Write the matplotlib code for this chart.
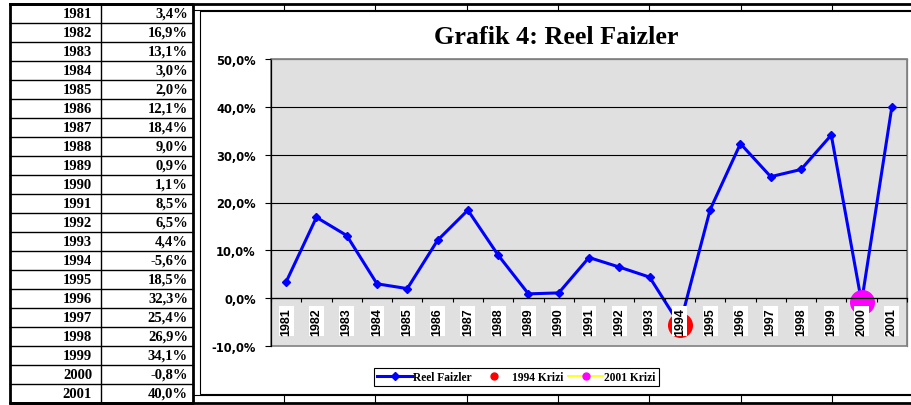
import matplotlib.pyplot as plt
import numpy as np
from matplotlib.lines import Line2D
from matplotlib.patches import Rectangle

YEARS = [1981, 1982, 1983, 1984, 1985, 1986, 1987, 1988, 1989, 1990, 1991,
         1992, 1993, 1994, 1995, 1996, 1997, 1998, 1999, 2000, 2001]
REAL_RATES = [3.4, 16.9, 13.1, 3.0, 2.0, 12.1, 18.4, 9.0, 0.9, 1.1, 8.5,
              6.5, 4.4, -5.6, 18.5, 32.3, 25.4, 26.9, 34.1, -0.8, 40.0]

# crisis markers (single points)
CRISIS_1994_YEAR = 1994
CRISIS_1994_VALUE = -5.6
CRISIS_2001_YEAR = 2000
CRISIS_2001_VALUE = -0.8

Y_TICKS = [-10, 0, 10, 20, 30, 40, 50]

W, H = 911, 406


def pct(v):
    return f"{v:.1f}%".replace(".", ",")


def draw_sheet(bg):
    # spreadsheet table on the left
    left, mid, right = 10, 101, 193
    top, row_h = 5, 19
    bottom = top + row_h * len(YEARS)
    for i in range(1, len(YEARS)):
        y = top + row_h * i
        bg.plot([left, right], [y, y], color="black", lw=1.0)
    bg.plot([mid, mid], [top, bottom], color="black", lw=1.0)
    bg.plot([left, right, right, left, left], [top, top, bottom, bottom, top],
            color="black", lw=2.0)

    for i, (year, val) in enumerate(zip(YEARS, REAL_RATES)):
        yc = top + row_h * (i + 0.5)
        bg.text(92, yc, str(year), ha="right", va="center",
                family="Liberation Serif", weight="bold", fontsize=10.5)
        bg.text(188, yc, pct(val), ha="right", va="center",
                family="Liberation Serif", weight="bold", fontsize=10.5)

    # grid lines of the sheet around the chart
    bg.plot([left, W], [top, top], color="black", lw=2.0)
    bg.plot([right, W], [11, 11], color="black", lw=0.8)
    bg.plot([right, W], [396, 396], color="black", lw=0.8)
    bg.plot([left, W], [bottom, bottom], color="black", lw=2.0)
    for x in [284, 375, 467, 558, 649, 741, 832]:
        bg.plot([x, x], [top, 11], color="black", lw=0.8)
        bg.plot([x, x], [396, bottom], color="black", lw=0.8)

    # chart frame
    bg.add_patch(Rectangle((200, 12), 720, 383, fill=False, ec="black", lw=0.8))


def plot():
    fig = plt.figure(figsize=(W / 100, H / 100), dpi=100)

    bg = fig.add_axes([0, 0, 1, 1])
    bg.set_xlim(0, W)
    bg.set_ylim(H, 0)
    bg.axis("off")
    draw_sheet(bg)

    ax = fig.add_axes([271 / W, 1 - 347 / H, 636 / W, 287 / H])
    ax.set_facecolor("#E0E0E0")
    ax.set_axisbelow(False)

    # NOTE: moving the spine resets the ticks, so do it before styling them
    ax.spines["bottom"].set_position(("data", 0))
    ax.spines["bottom"].set_color("black")
    ax.spines["left"].set_color("black")
    ax.spines["top"].set_color("#808080")
    ax.spines["right"].set_color("#808080")
    for s in ax.spines.values():
        s.set_linewidth(0.9)
    ax.add_patch(Rectangle((0, 0), 1, 1, transform=ax.transAxes, fill=False,
                           ec="#808080", lw=1.2, clip_on=False, zorder=0.5))

    x = np.arange(len(YEARS))
    ax.plot(x, REAL_RATES, color="#0000FF", lw=2.2, marker="D", ms=4.5,
            zorder=2)
    ax.plot([YEARS.index(CRISIS_1994_YEAR)], [CRISIS_1994_VALUE], "o",
            color="#FF0000", ms=17, zorder=2.2)
    ax.plot([YEARS.index(CRISIS_2001_YEAR)], [CRISIS_2001_VALUE], marker="o",
            color="#FFFF00", mfc="#FF00FF", mec="#FF00FF", ms=17, zorder=2.2)

    for v in Y_TICKS[1:-1]:
        ax.axhline(v, color="black", lw=0.8, zorder=1)

    ax.set_xlim(-0.5, len(YEARS) - 0.5)
    ax.set_ylim(Y_TICKS[0], Y_TICKS[-1])

    ax.set_yticks(Y_TICKS)
    ax.set_yticklabels([pct(v) for v in Y_TICKS])
    ax.tick_params(axis="y", length=4, width=0.8, pad=7)
    for lbl in ax.get_yticklabels():
        lbl.set_family("DejaVu Sans")
        lbl.set_weight("bold")
        lbl.set_fontsize(8.3)

    ax.set_xticks(x)
    ax.set_xticklabels([str(y) for y in YEARS])
    ax.set_xticks(np.arange(-0.5, len(YEARS)), minor=True)
    ax.tick_params(axis="x", which="major", length=0, pad=6.5,
                   labelrotation=90)
    ax.tick_params(axis="x", which="minor", length=3, width=0.8,
                   direction="out")
    for lbl in ax.get_xticklabels():
        lbl.set_family("Liberation Sans")
        lbl.set_weight("bold")
        lbl.set_fontsize(9)
        lbl.set_bbox(dict(facecolor="white", edgecolor="none", pad=1.0))

    fig.text(556 / W, 1 - 38 / H, "Grafik 4: Reel Faizler", ha="center",
             va="center", family="Liberation Serif", weight="bold",
             fontsize=18.8)

    handles = [
        Line2D([], [], color="#0000FF", lw=2.2, marker="D", ms=4),
        Line2D([], [], color="#FF0000", lw=0, marker="o", ms=5),
        Line2D([], [], color="#FFFF00", lw=1.2, marker="o", ms=5,
               mfc="#FF00FF", mec="#FF00FF"),
    ]
    leg = fig.legend(handles, ["Reel Faizler", "1994 Krizi", "2001 Krizi"],
                     loc="center", bbox_to_anchor=(516.5 / W, 1 - 378 / H),
                     ncol=3, fancybox=False, framealpha=1, edgecolor="black",
                     borderpad=0.3, handlelength=3, handletextpad=0.1,
                     columnspacing=0.4,
                     prop=dict(family="Liberation Serif", weight="bold",
                               size=8.3))
    leg.get_frame().set_linewidth(0.8)

    fig.savefig("out.png", dpi=100)


if __name__ == "__main__":
    plot()
